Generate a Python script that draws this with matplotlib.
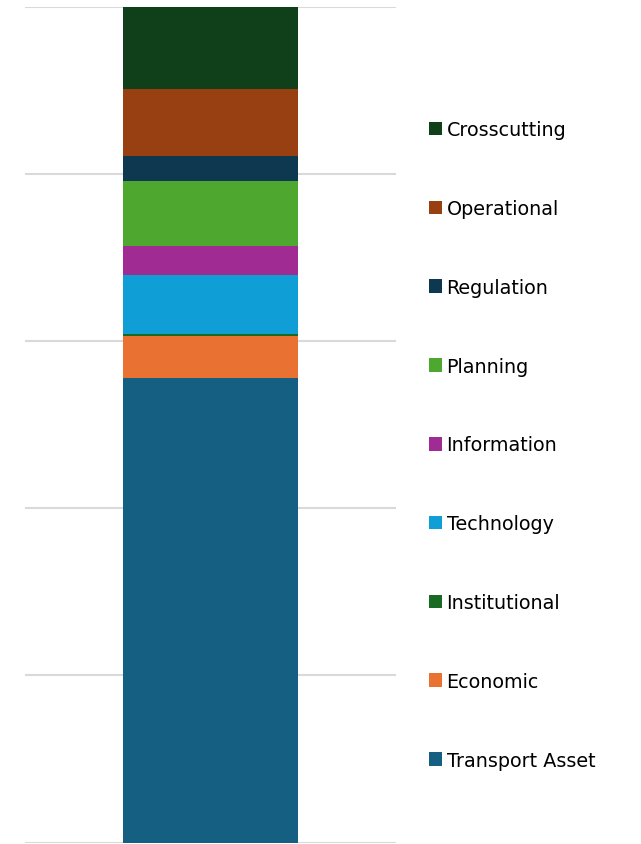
import matplotlib
matplotlib.use("Agg")
import matplotlib.pyplot as plt

# shares of a single 100% stacked bar, bottom to top
categories = ['Transport Asset', 'Economic', 'Institutional', 'Technology', 'Information',
              'Planning', 'Regulation', 'Operational', 'Crosscutting']
shares = [0.556, 0.050, 0.0025, 0.071, 0.034, 0.078, 0.030, 0.080, 0.0985]
colors = ['#156082', '#E97132', '#196B24', '#0F9ED5', '#A02B93',
          '#4EA72E', '#0E384F', '#984012', '#10401A']

plt.rcParams['font.family'] = ['DejaVu Sans']

fig = plt.figure(figsize=(6.41, 8.45), dpi=100)
ax = fig.add_axes([25 / 641, 1.5 / 845, 371 / 641, 835.5 / 845])

bottom = 0
handles = []
for cat, val, col in zip(categories, shares, colors):
    b = ax.bar(0, val, width=0.474, bottom=bottom, color=col, label=cat, zorder=3)
    handles.append(b)
    bottom += val

ax.set_xlim(-0.5, 0.5)
ax.set_ylim(0, 1)
ax.set_yticks([0, 0.2, 0.4, 0.6, 0.8, 1.0])
ax.yaxis.grid(True, color='#d9d9d9', linewidth=1.5, zorder=0)
ax.set_axisbelow(True)
ax.tick_params(left=False, bottom=False, labelleft=False, labelbottom=False)
for s in ax.spines.values():
    s.set_visible(False)

fig.legend(handles[::-1], categories[::-1], loc='center left',
           bbox_to_anchor=(419 / 641, 1 - 446 / 845), frameon=False,
           fontsize=13.8, handlelength=0.72, handleheight=0.72,
           handletextpad=0.22, labelspacing=3.12, borderpad=0)

fig.savefig('out.png', dpi=100)
